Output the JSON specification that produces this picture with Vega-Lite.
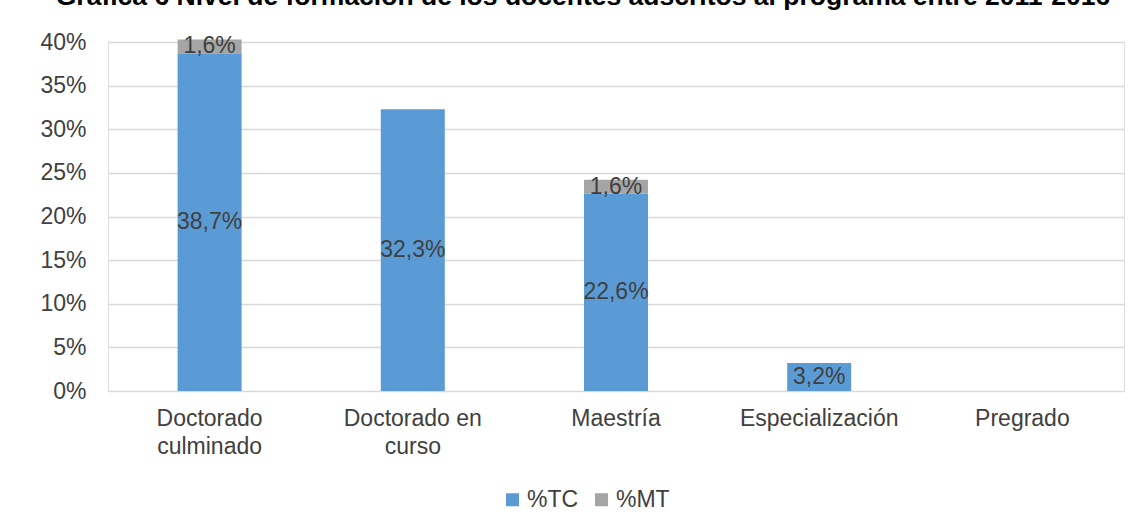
{
  "$schema": "https://vega.github.io/schema/vega-lite/v6.json",
  "width": 1016,
  "height": 349,
  "autosize": "none",
  "padding": {"left": 108, "top": 42, "right": 22, "bottom": 138},
  "background": "white",
  "title": {
    "text": "Gráfica 6 Nivel de formación de los docentes adscritos al programa entre 2011-2016",
    "font": "Liberation Sans",
    "fontSize": 26.5,
    "fontWeight": "bold",
    "color": "#000000",
    "anchor": "middle",
    "frame": "group",
    "baseline": "alphabetic",
    "offset": 21,
    "dx": -33,
    "dy": 21
  },
  "data": {
    "values": [
      {"cat": "Doctorado culminado", "serie": "%TC", "ord": 1, "value": 38.7},
      {"cat": "Doctorado culminado", "serie": "%MT", "ord": 2, "value": 1.6},
      {"cat": "Doctorado en curso", "serie": "%TC", "ord": 1, "value": 32.3},
      {"cat": "Doctorado en curso", "serie": "%MT", "ord": 2, "value": 0},
      {"cat": "Maestría", "serie": "%TC", "ord": 1, "value": 22.6},
      {"cat": "Maestría", "serie": "%MT", "ord": 2, "value": 1.6},
      {"cat": "Especialización", "serie": "%TC", "ord": 1, "value": 3.2},
      {"cat": "Especialización", "serie": "%MT", "ord": 2, "value": 0},
      {"cat": "Pregrado", "serie": "%TC", "ord": 1, "value": 0},
      {"cat": "Pregrado", "serie": "%MT", "ord": 2, "value": 0}
    ]
  },
  "transform": [
    {"stack": "value", "groupby": ["cat"], "sort": [{"field": "ord"}], "as": ["v0", "v1"]},
    {"calculate": "(datum.v0 + datum.v1) / 2", "as": "mid"},
    {"calculate": "replace(format(datum.value, '.1f'), '.', ',') + '%'", "as": "lbl"}
  ],
  "encoding": {
    "x": {
      "field": "cat",
      "type": "nominal",
      "sort": ["Doctorado culminado", "Doctorado en curso", "Maestría", "Especialización", "Pregrado"],
      "scale": {"paddingInner": 0.685, "paddingOuter": 0.3425},
      "axis": {
        "title": null,
        "labelAngle": 0,
        "labelFont": "Liberation Sans",
        "labelFontSize": 23,
        "labelColor": "#404040",
        "labelPadding": 16,
        "labelLineHeight": 28,
        "labelBaseline": "top",
        "ticks": false,
        "domain": false,
        "labelExpr": "datum.label == 'Doctorado culminado' ? ['Doctorado', 'culminado'] : datum.label == 'Doctorado en curso' ? ['Doctorado en', 'curso'] : datum.label"
      }
    }
  },
  "layer": [
    {
      "mark": {"type": "bar"},
      "encoding": {
        "y": {
          "field": "v0",
          "type": "quantitative",
          "scale": {"domain": [0, 40], "nice": false},
          "axis": {
            "title": null,
            "values": [0, 5, 10, 15, 20, 25, 30, 35, 40],
            "labelExpr": "datum.value + '%'",
            "labelFont": "Liberation Sans",
            "labelFontSize": 23,
            "labelColor": "#404040",
            "labelPadding": 22,
            "ticks": false,
            "domain": false,
            "grid": true,
            "gridColor": "#d9d9d9",
            "gridWidth": 1.5
          }
        },
        "y2": {"field": "v1"},
        "color": {
          "field": "serie",
          "type": "nominal",
          "scale": {"domain": ["%TC", "%MT"], "range": ["#5b9bd5", "#a5a5a5"]},
          "legend": {
            "title": null,
            "orient": "none",
            "direction": "horizontal",
            "legendX": 393,
            "legendY": 446,
            "symbolType": "square",
            "symbolSize": 169,
            "symbolStrokeWidth": 0,
            "symbolOpacity": 1,
            "labelFont": "Liberation Sans",
            "labelFontSize": 23,
            "labelColor": "#404040",
            "labelOffset": 3,
            "columnPadding": 11
          }
        }
      }
    },
    {
      "transform": [{"filter": "datum.value > 0"}],
      "mark": {"type": "text", "font": "Liberation Sans", "fontSize": 23, "color": "#404040", "baseline": "middle", "align": "center"},
      "encoding": {
        "y": {"field": "mid", "type": "quantitative"},
        "text": {"field": "lbl"}
      }
    }
  ]
}
